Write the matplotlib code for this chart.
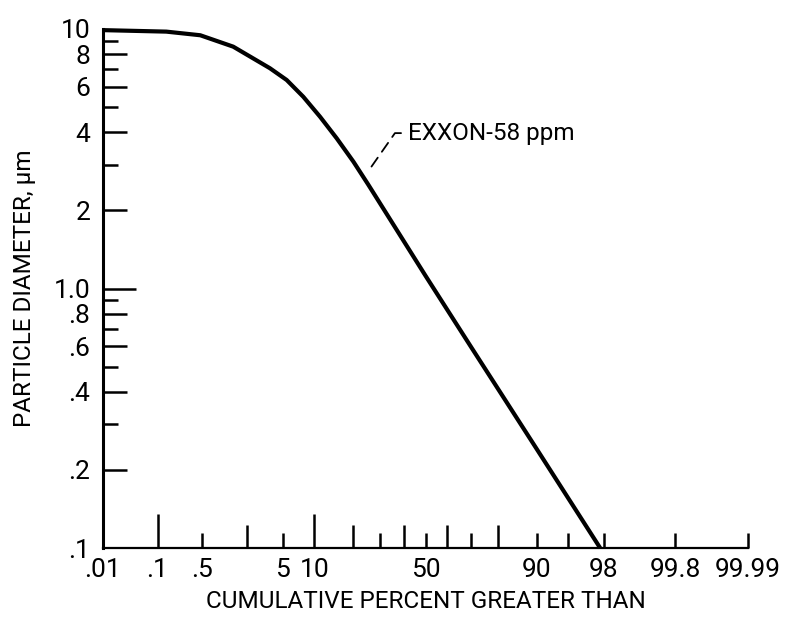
import numpy as np
import matplotlib
matplotlib.use('Agg')
import matplotlib.pyplot as plt
from statistics import NormalDist

# values (cumulative percent greater than, diameter in um)
percent = [0.01, 0.14, 0.47, 1.33, 3.64, 5.47, 7.94, 11.2, 15.3, 20.3, 25.5, 50.0, 70.0, 90.0, 97.8]
diameter = [9.9, 9.77, 9.46, 8.55, 7.06, 6.36, 5.48, 4.59, 3.79, 3.08, 2.51, 1.12, 0.596, 0.241, 0.1]

x_ticks = [0.01, 0.1, 0.5, 2, 5, 10, 20, 30, 40, 50, 60, 70, 80, 90, 95, 98, 99.8, 99.99]
x_labels = ['.01', '.1', '.5', '', '5', '10', '', '', '', '50', '', '', '', '90', '', '98', '99.8', '99.99']
y_ticks = [0.1, 0.2, 0.3, 0.4, 0.5, 0.6, 0.7, 0.8, 0.9, 1.0, 2, 3, 4, 5, 6, 7, 8, 9, 10]
y_labels = ['.1', '.2', '', '.4', '', '.6', '', '.8', '', '1.0', '2', '', '4', '', '6', '', '8', '', '10']

series_label = 'EXXON-58 ppm'
label_at = (24.3, 2.72)
label_text_at = (42, 3.97)

plt.rcParams['font.family'] = ['Roboto', 'DejaVu Sans']

nd = NormalDist()
inv_cdf = np.vectorize(nd.inv_cdf, otypes=[float])
cdf = np.vectorize(nd.cdf, otypes=[float])


def to_z(p):
    p = np.clip(np.asarray(p, dtype=float) / 100.0, 1e-9, 1 - 1e-9)
    return inv_cdf(p)


def from_z(z):
    return cdf(np.asarray(z, dtype=float)) * 100.0


def tick_len(v, kind):
    # long / medium / short tick marks in points
    if kind == 'x':
        if v in (0.1, 10):
            return 24.5
        if v in (2, 20, 40, 60, 80):
            return 16.5
        if v == 0.01:
            return 0
        return 11
    if v in (0.1, 10):
        return 0
    if v == 1.0:
        return 24
    if v in (0.2, 0.4, 0.6, 0.8, 2, 4, 6, 8):
        return 17
    return 11


fs = 17.5
tick_fs = 19

fig = plt.figure(figsize=(7.85, 6.18), dpi=100)
ax = fig.add_axes([103 / 785, 70 / 618, 645 / 785, 519 / 618])

ax.set_xscale('function', functions=(to_z, from_z))
ax.set_yscale('log')
ax.set_xlim(0.01, 99.99)
ax.set_ylim(0.1, 10)

ax.plot(percent, diameter, color='black', lw=3, clip_on=False,
        solid_capstyle='butt', solid_joinstyle='round')

ax.spines['top'].set_visible(False)
ax.spines['right'].set_visible(False)
ax.spines['left'].set_linewidth(2.2)
ax.spines['bottom'].set_linewidth(1.6)

ax.xaxis.set_major_locator(matplotlib.ticker.FixedLocator(x_ticks))
ax.xaxis.set_minor_locator(matplotlib.ticker.NullLocator())
ax.yaxis.set_major_locator(matplotlib.ticker.FixedLocator(y_ticks))
ax.yaxis.set_minor_locator(matplotlib.ticker.NullLocator())
ax.set_xticklabels(x_labels)
ax.set_yticklabels(y_labels)
ax.tick_params(axis='both', direction='in', width=1.8, labelsize=tick_fs, colors='black')
ax.tick_params(axis='x', pad=7)
ax.tick_params(axis='y', pad=9)

for t, v in zip(ax.xaxis.get_major_ticks(), x_ticks):
    t.tick1line.set_markersize(tick_len(v, 'x'))
for t, v in zip(ax.yaxis.get_major_ticks(), y_ticks):
    t.tick1line.set_markersize(tick_len(v, 'y'))

ax.set_xlabel('CUMULATIVE PERCENT GREATER THAN', fontsize=fs, labelpad=6)
ax.set_ylabel('PARTICLE DIAMETER, µm', fontsize=fs, labelpad=13)

ax.annotate(series_label, xy=label_at, xytext=label_text_at, fontsize=fs,
            ha='left', va='center',
            arrowprops=dict(arrowstyle='-', color='black', lw=1.3,
                            linestyle=(0, (6, 4)), relpos=(0, 0.5),
                            shrinkA=3, shrinkB=3,
                            connectionstyle='angle,angleA=180,angleB=55,rad=0'))

fig.savefig('out.png', dpi=100, facecolor='white')
